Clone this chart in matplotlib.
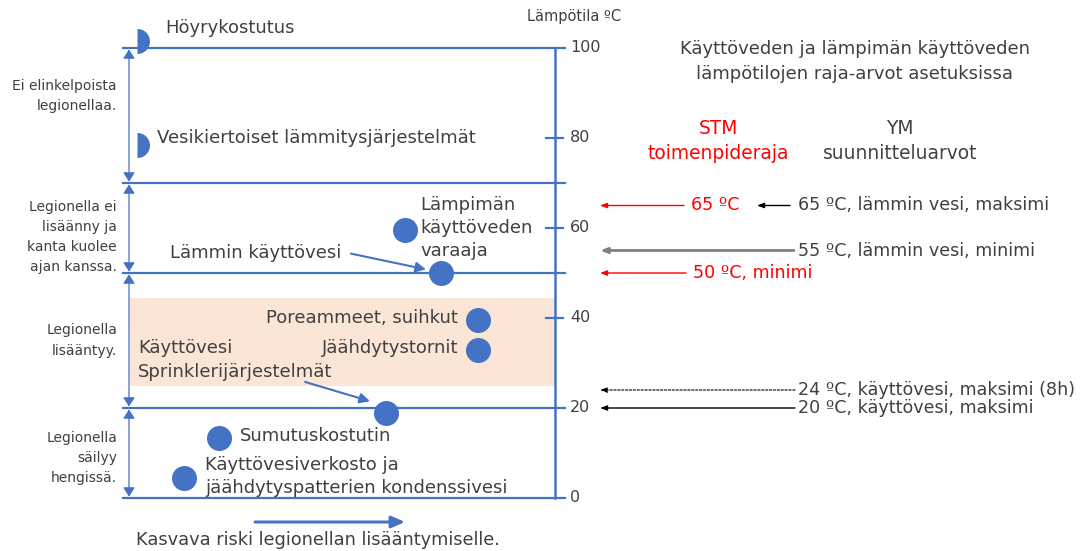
"""Legionella risk vs. water temperature diagram (Finnish)."""

import matplotlib
matplotlib.use("Agg")
import matplotlib.pyplot as plt

BLUE = "#4472C4"
PEACH = "#FBE5D6"
TXT = "#404040"
RED = "#FF0000"

# temperature zones (°C) and their left-hand descriptions
zone_bounds = [100, 70, 50, 20, 0]
zone_labels = ["Ei elinkelpoista\nlegionellaa.",
               "Legionella ei\nlisäänny ja\nkanta kuolee\najan kanssa.",
               "Legionella\nlisääntyy.",
               "Legionella\nsäilyy\nhengissä."]
zone_label_temp = [89.3, 58, 35, 8.9]
growth_band = (25, 44.5)
axis_ticks = [100, 80, 60, 40, 20, 0]
minor_ticks = [80, 60, 40]

# half-dot sources (no legionella)
half_names = ["Höyrykostutus", "Vesikiertoiset lämmitysjärjestelmät"]
half_temp = [101.5, 78.5]
half_risk = [137, 137]

# full-dot sources: risk position (horizontal) and temperature
dot_risk = [405, 441, 478, 478, 386, 219, 184]
dot_temp = [59.6, 50, 39.6, 32.8, 19, 13.3, 4.4]

# regulation limits
stm_temps = [65, 50]
stm_labels = ["65 ºC", "50 ºC, minimi"]
ym_temps = [65, 55, 24, 20]
ym_labels = ["65 ºC, lämmin vesi, maksimi", "55 ºC, lämmin vesi, minimi",
             "24 ºC, käyttövesi, maksimi (8h)", "20 ºC, käyttövesi, maksimi"]

plt.rcParams["font.family"] = ["DejaVu Sans"]

MAIN = 13
RIGHT = 12.6
fig = plt.figure(figsize=(10.88, 5.51), dpi=100)
ax = fig.add_axes([0, 0, 1, 1])
ax.set_xlim(0, 1088)
ax.set_ylim((498 - 551) / 4.5, 498 / 4.5)
ax.axis("off")

AX_X = 555
LEFT_X = 129

# growth band
ax.fill_between([130, AX_X], growth_band[0], growth_band[1], color=PEACH, lw=0, zorder=0)

# zone lines
for t in zone_bounds:
    ax.plot([123, 565], [t, t], color=BLUE, lw=1.6, zorder=1)
ax.plot([AX_X, AX_X], [0, 100], color=BLUE, lw=1.8, zorder=1)
for t in minor_ticks:
    ax.plot([546, 563], [t, t], color=BLUE, lw=1.6, zorder=1)
for t in axis_ticks:
    ax.text(570, t, str(t), fontsize=11.5, color=TXT, va="center", ha="left")
ax.text(527, 107, "Lämpötila ºC", fontsize=10.5, color=TXT, va="center", ha="left")

# left double arrows and zone descriptions
for i in range(len(zone_bounds) - 1):
    top, bot = zone_bounds[i], zone_bounds[i + 1]
    ax.annotate("", xy=(LEFT_X, top - 0.3), xytext=(LEFT_X, bot + 0.3),
                arrowprops=dict(arrowstyle="<|-|>,head_length=0.55,head_width=0.35",
                                color=BLUE, lw=0.9, shrinkA=0, shrinkB=0))
    ax.text(117, zone_label_temp[i], zone_labels[i], fontsize=10, color=TXT,
            ha="right", va="center", linespacing=1.55)

# half dots
ax.plot(half_risk, half_temp, "o", ms=18, color=BLUE, fillstyle="right",
        markeredgewidth=0, zorder=3)
ax.text(165, 104.4, half_names[0], fontsize=MAIN, color=TXT, va="center")
ax.text(157, 80, half_names[1], fontsize=MAIN, color=TXT, va="center")

# full dots
ax.plot(dot_risk, dot_temp, "o", ms=18, color=BLUE, markeredgewidth=0, zorder=3)

ax.text(420, 60, "Lämpimän\nkäyttöveden\nvaraaja", fontsize=MAIN, color=TXT,
        va="center", ha="left", linespacing=1.35)
ax.text(170, 54.5, "Lämmin käyttövesi", fontsize=MAIN, color=TXT, va="center")
ax.annotate("", xy=(426, 50.8), xytext=(351, 54.3),
            arrowprops=dict(arrowstyle="-|>,head_length=0.6,head_width=0.3",
                            color=BLUE, lw=1.5, shrinkA=0, shrinkB=0))
ax.text(458, 40, "Poreammeet, suihkut", fontsize=MAIN, color=TXT, va="center", ha="right")
ax.text(458, 33.3, "Jäähdytystornit", fontsize=MAIN, color=TXT, va="center", ha="right")
ax.text(138, 33.3, "Käyttövesi", fontsize=MAIN, color=TXT, va="center")
ax.text(138, 28, "Sprinklerijärjestelmät", fontsize=MAIN, color=TXT, va="center")
ax.annotate("", xy=(370, 21.5), xytext=(305, 25.8),
            arrowprops=dict(arrowstyle="-|>,head_length=0.6,head_width=0.3",
                            color=BLUE, lw=1.5, shrinkA=0, shrinkB=0))
ax.text(240, 13.7, "Sumutuskostutin", fontsize=MAIN, color=TXT, va="center")
ax.text(205, 4.7, "Käyttövesiverkosto ja\njäähdytyspatterien kondenssivesi",
        fontsize=MAIN, color=TXT, va="center", linespacing=1.35)

# bottom risk arrow
ax.annotate("", xy=(405, (498 - 522) / 4.5), xytext=(255, (498 - 522) / 4.5),
            arrowprops=dict(arrowstyle="-|>,head_length=0.8,head_width=0.35",
                            color=BLUE, lw=2.2, shrinkA=0, shrinkB=0))
ax.text(318, (498 - 540) / 4.5, "Kasvava riski legionellan lisääntymiselle.",
        fontsize=12.8, color=TXT, ha="center", va="center")

# right side: regulation limits
ax.text(855, 97, "Käyttöveden ja lämpimän käyttöveden\nlämpötilojen raja-arvot asetuksissa",
        fontsize=MAIN, color=TXT, ha="center", va="center", linespacing=1.45)
ax.text(718, 79.4, "STM\ntoimenpideraja", fontsize=13.4, color=RED, ha="center",
        va="center", linespacing=1.4)
ax.text(900, 79.4, "YM\nsuunnitteluarvot", fontsize=13.4, color=TXT, ha="center",
        va="center", linespacing=1.4)

stm_start = [684, 686]
for t, lab, x0 in zip(stm_temps, stm_labels, stm_start):
    ax.annotate("", xy=(600, t), xytext=(x0, t),
                arrowprops=dict(arrowstyle="-|>,head_length=0.4,head_width=0.15",
                                color=RED, lw=1, shrinkA=0, shrinkB=0))
    ax.text(x0 + 7, t, lab, fontsize=RIGHT, color=RED, va="center")

ym_start = [790, 794, 795, 795]
ym_end = [757, 600, 600, 600]
ym_color = ["#000000", "#808080", "#000000", "#000000"]
ym_style = ["-", "-", (0, (2, 1.5)), "-"]
ym_lw = [1, 2, 0.8, 1]
for t, lab, x0, x1, c, ls, lw in zip(ym_temps, ym_labels, ym_start, ym_end,
                                     ym_color, ym_style, ym_lw):
    ax.annotate("", xy=(x1, t), xytext=(x0, t),
                arrowprops=dict(arrowstyle="-|>,head_length=0.4,head_width=0.15",
                                color=c, lw=lw, linestyle=ls, shrinkA=0, shrinkB=0))
    ax.text(798, t, lab, fontsize=RIGHT, color=TXT, va="center")

fig.savefig("out.png", dpi=100)
